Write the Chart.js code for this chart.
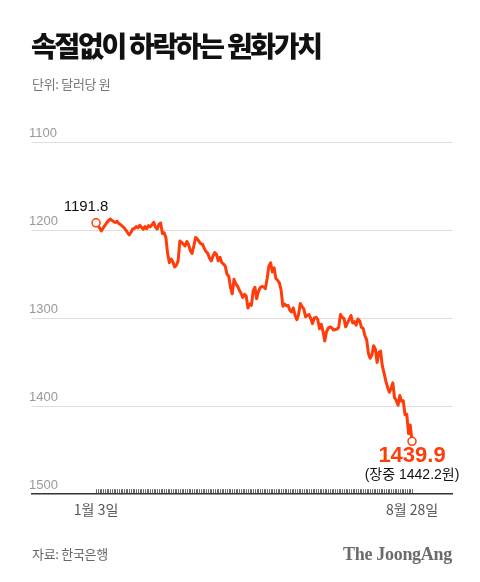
<!DOCTYPE html>
<html>
<head>
<meta charset="utf-8">
<script src="https://cdn.jsdelivr.net/npm/chart.js@4"></script>
<style>
  html, body { margin: 0; padding: 0; background: #fff; }
  #wrap { position: relative; width: 480px; height: 582px; overflow: hidden; font-family: "Noto Sans CJK KR", "Liberation Sans", sans-serif; }
  #chart { position: absolute; left: 0; top: 0; }
  .txt { position: absolute; white-space: nowrap; }
  #title { left: 31px; top: 28px; font-size: 28px; line-height: 34px; font-weight: 900; color: #111; letter-spacing: -2.3px; }
  #unit { left: 32px; top: 75px; font-size: 13px; line-height: 18px; color: #777; letter-spacing: -0.3px; }
  #source { left: 32px; top: 545px; font-size: 13px; line-height: 18px; color: #666; letter-spacing: -0.3px; }
  #brand { left: 343px; top: 543px; font-family: "Liberation Serif", "DejaVu Serif", serif; font-size: 18px; line-height: 22px; font-weight: 700; color: #6b6b6b; letter-spacing: -0.3px; }
</style>
</head>
<body>
<div id="wrap">
  <canvas id="chart" width="480" height="582"></canvas>
  <div class="txt" id="title">속절없이 하락하는 원화가치</div>
  <div class="txt" id="unit">단위: 달러당 원</div>
  <div class="txt" id="source">자료: 한국은행</div>
  <div class="txt" id="brand">The JoongAng</div>
</div>
<script>
// 원/달러 환율 (종가), 1월 3일 ~ 마지막 거래일
const rate = [
  // 1월
  1191.8, 1194.4, 1197.5, 1201.0, 1197.9, 1195.0, 1192.0, 1189.5, 1187.6, 1188.8,
  1190.2, 1191.4, 1190.0, 1192.5, 1193.8, 1195.6, 1197.3, 1199.9, 1202.8, 1205.5,
  // 2월
  1202.5, 1198.8, 1198.2, 1196.0, 1197.5, 1194.6, 1196.8, 1199.2, 1196.0, 1198.5,
  1195.0, 1196.4, 1194.0, 1191.2, 1196.5, 1199.0, 1193.5, 1192.0,
  // 3월
  1204.0, 1203.0, 1208.5, 1227.0, 1237.0, 1233.0, 1236.0, 1242.0, 1240.0, 1235.0,
  1212.5, 1214.0, 1216.0, 1218.0, 1213.0, 1216.5, 1223.5, 1226.5, 1218.0, 1208.5, 1210.0,
  // 4월
  1213.0, 1215.5, 1216.0, 1221.0, 1224.5, 1226.5, 1232.0, 1235.0, 1229.5, 1225.5,
  1227.5, 1235.0, 1231.0, 1237.0, 1238.5, 1241.0, 1250.0, 1252.5, 1265.0, 1272.5, 1256.0,
  // 5월
  1261.0, 1263.5, 1268.0, 1271.5, 1276.5, 1273.0, 1275.0, 1288.6, 1284.0, 1285.5,
  1269.0, 1265.0, 1278.0, 1270.0, 1265.5, 1264.0, 1264.5, 1266.5, 1255.0, 1241.0, 1237.2,
  // 6월
  1247.5, 1243.0, 1255.0, 1257.0, 1260.0, 1268.0, 1286.5, 1284.0, 1286.0, 1285.5,
  1291.0, 1293.0, 1288.5, 1297.0, 1301.8, 1296.0, 1283.5, 1287.0, 1289.5, 1298.4,
  // 7월
  1297.0, 1296.0, 1300.5, 1306.3, 1300.0, 1299.0, 1301.5, 1312.0, 1307.0, 1315.0,
  1326.1, 1315.5, 1311.5, 1310.0, 1311.0, 1313.5, 1313.0, 1312.5, 1310.5, 1296.0, 1299.0,
  // 8월
  1300.5, 1310.0, 1305.5, 1302.0, 1297.0, 1305.5, 1304.0, 1308.0, 1301.0, 1303.0,
  1310.5, 1311.5, 1320.0, 1324.5, 1339.8, 1345.5, 1342.0, 1331.5, 1335.0, 1350.4, 1339.0, 1337.5,
  // 9월
  1354.5, 1362.5, 1371.5, 1378.5, 1384.2, 1380.0, 1373.5, 1390.5, 1393.5, 1399.0,
  1388.0, 1394.5, 1394.0, 1409.7, 1409.3, 1431.3, 1421.5, 1439.9
];

const xLabels = ['1월 3일', '8월 28일'];
const yTicks = [1100, 1200, 1300, 1400, 1500];
const intradayNote = '(장중 1442.2원)';

const lineColor = '#ff3d0a';
const last = rate.length - 1;
const points = rate.map((v, i) => ({ x: i, y: v }));

// 라벨, 눈금 그리기
const extras = {
  id: 'extras',
  afterDatasetsDraw(chart) {
    const { ctx, scales: { x, y }, chartArea } = chart;
    ctx.save();
    // y축 숫자 (격자선 위)
    ctx.fillStyle = '#999';
    ctx.textAlign = 'left';
    ctx.textBaseline = 'middle';
    ctx.font = '13px "Liberation Sans", sans-serif';
    yTicks.forEach(v => ctx.fillText(String(v), chartArea.left - 3, y.getPixelForValue(v) - 9));

    // x축 위 촘촘한 눈금
    ctx.strokeStyle = '#666';
    ctx.lineWidth = 1;
    ctx.beginPath();
    rate.forEach((v, i) => {
      const px = Math.round(x.getPixelForValue(i)) + 0.5;
      ctx.moveTo(px, chartArea.bottom - 5);
      ctx.lineTo(px, chartArea.bottom - 1);
    });
    ctx.stroke();

    const x0 = x.getPixelForValue(0), y0 = y.getPixelForValue(rate[0]);
    ctx.fillStyle = '#111';
    ctx.textAlign = 'center';
    ctx.font = '15px "Liberation Sans", "Noto Sans CJK KR", sans-serif';
    ctx.fillText(rate[0].toFixed(1), x0 - 10, y0 - 16);

    const x1 = x.getPixelForValue(last), y1 = y.getPixelForValue(rate[last]);
    ctx.fillStyle = lineColor;
    ctx.font = 'bold 22px "Liberation Sans", "Noto Sans CJK KR", sans-serif';
    ctx.fillText(rate[last].toFixed(1), x1, y1 + 15);
    ctx.fillStyle = '#111';
    ctx.font = '14px "Liberation Sans", "Noto Sans CJK KR", sans-serif';
    ctx.fillText(intradayNote, x1, y1 + 34);
    ctx.restore();
  }
};

new Chart(document.getElementById('chart'), {
  type: 'line',
  data: {
    datasets: [{
      data: points,
      borderColor: lineColor,
      borderWidth: 3,
      borderJoinStyle: 'round',
      borderCapStyle: 'round',
      tension: 0,
      pointRadius: ctx => (ctx.dataIndex === 0 || ctx.dataIndex === last) ? 4 : 0,
      pointBackgroundColor: '#fff',
      pointBorderColor: lineColor,
      pointBorderWidth: 1.5,
      pointHoverRadius: 0
    }]
  },
  options: {
    responsive: false,
    animation: false,
    layout: { padding: { left: 32, right: 28, top: 142, bottom: 57 } },
    plugins: { legend: { display: false }, tooltip: { enabled: false } },
    scales: {
      x: {
        type: 'linear',
        min: -36.7,
        max: 203.9,
        afterBuildTicks: s => { s.ticks = [{ value: 0 }, { value: last }]; },
        grid: { display: false, drawTicks: false },
        border: { display: true, color: '#333', width: 1.5 },
        ticks: {
          autoSkip: false,
          maxRotation: 0,
          padding: 7,
          color: '#555',
          font: { family: '"Noto Sans CJK KR", "Liberation Sans", sans-serif', size: 14 },
          callback: v => v === 0 ? xLabels[0] : (v === last ? xLabels[1] : '')
        }
      },
      y: {
        reverse: true,
        min: 1100,
        max: 1500,
        afterBuildTicks: s => { s.ticks = yTicks.map(v => ({ value: v })); },
        border: { display: false },
        grid: {
          drawTicks: false,
          color: c => c.tick && c.tick.value === 1500 ? 'rgba(0,0,0,0)' : '#dedede',
          lineWidth: 1
        },
        ticks: { display: false }
      }
    }
  },
  plugins: [extras]
});
</script>
</body>
</html>
